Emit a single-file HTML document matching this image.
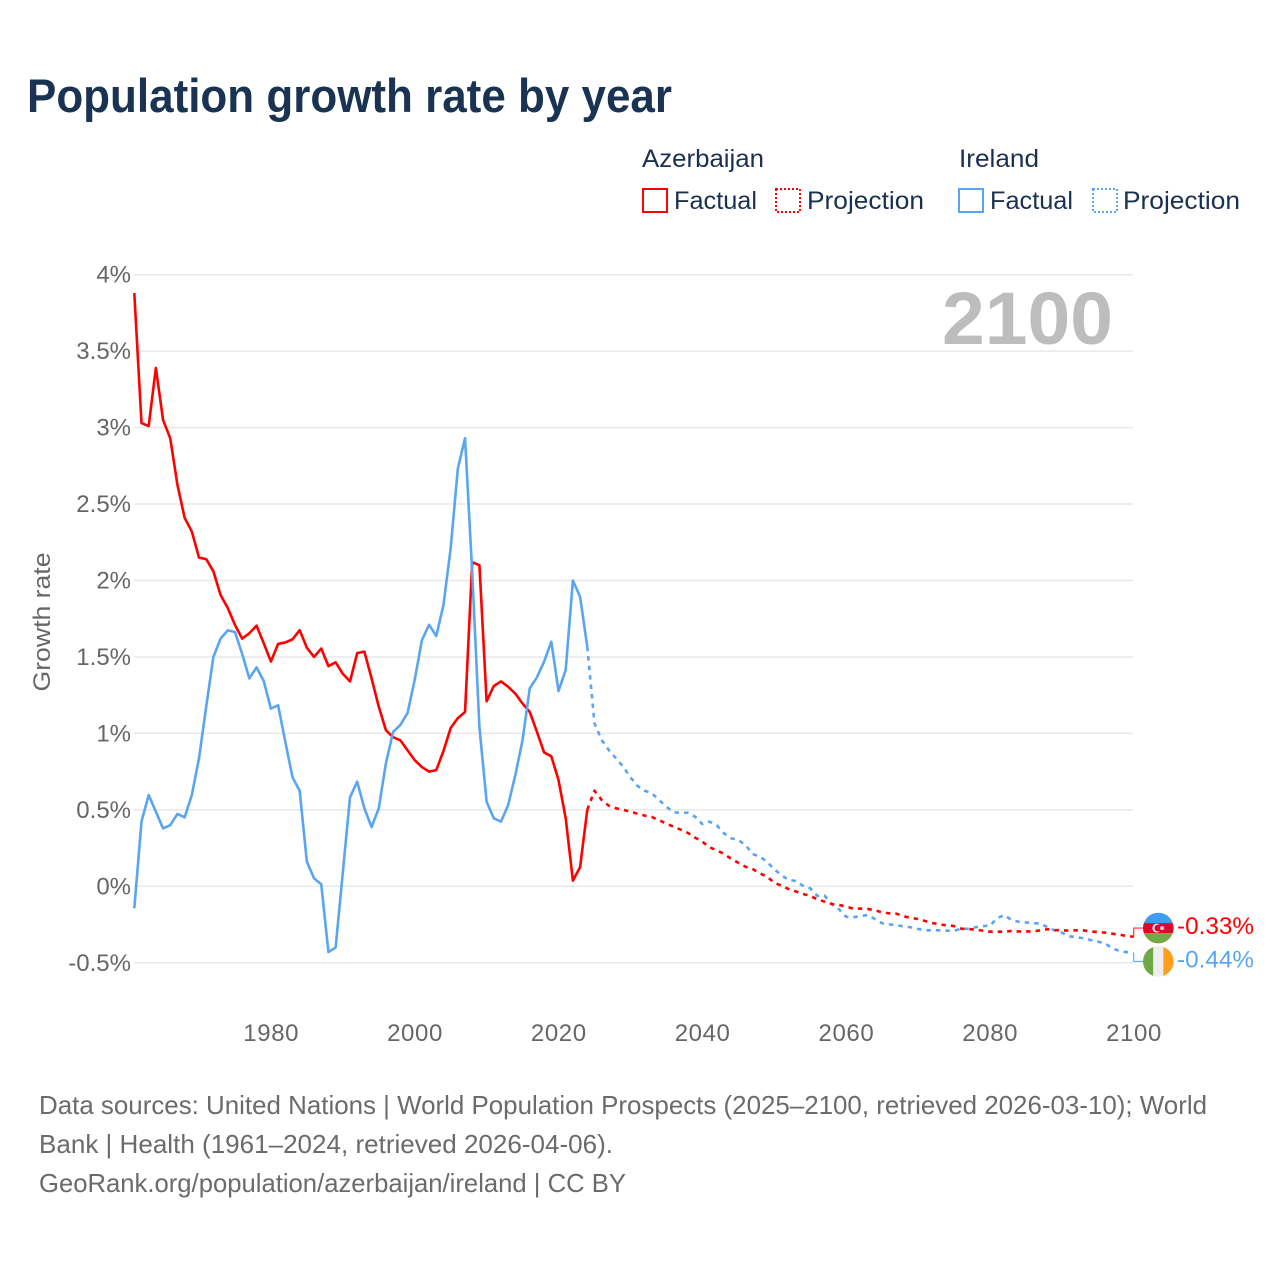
<!DOCTYPE html>
<html lang="en">
<head>
<meta charset="utf-8">
<title>Population growth rate by year</title>
<style>
html,body{margin:0;padding:0;background:#fff;}
svg{display:block;font-family:"Liberation Sans",sans-serif;}
</style>
</head>
<body>
<svg id="chart" xmlns="http://www.w3.org/2000/svg" width="1280" height="1280" viewBox="0 0 1280 1280">
  <defs>
    <clipPath id="flag-clip"><circle cx="0" cy="0" r="15.3"/></clipPath>
  </defs>
  <rect x="0" y="0" width="1280" height="1280" fill="#fff"/>
  <text x="27" y="112" font-size="47" font-weight="700" fill="#1a3353" textLength="645" lengthAdjust="spacingAndGlyphs">Population growth rate by year</text>

  <g font-size="25" fill="#1a3050">
    <text x="642" y="167" textLength="122" lengthAdjust="spacingAndGlyphs">Azerbaijan</text>
    <text x="959" y="167" textLength="80" lengthAdjust="spacingAndGlyphs">Ireland</text>
    <rect x="643" y="189" width="24" height="23" fill="none" stroke="#ff0000" stroke-width="2"/>
    <text x="674" y="209" textLength="83" lengthAdjust="spacingAndGlyphs">Factual</text>
    <rect x="776" y="189" width="24" height="23" fill="none" stroke="#ff0000" stroke-width="2" stroke-dasharray="2 2"/>
    <text x="807" y="209" textLength="117" lengthAdjust="spacingAndGlyphs">Projection</text>
    <rect x="959" y="189" width="24" height="23" fill="none" stroke="#5aa5ef" stroke-width="2"/>
    <text x="990" y="209" textLength="83" lengthAdjust="spacingAndGlyphs">Factual</text>
    <rect x="1093" y="189" width="24" height="23" fill="none" stroke="#5aa5ef" stroke-width="2" stroke-dasharray="2 2"/>
    <text x="1123" y="209" textLength="117" lengthAdjust="spacingAndGlyphs">Projection</text>
  </g>

  <g id="grid"></g>
  <g id="y-ticks" font-size="24" fill="#666" text-anchor="end"></g>
  <g id="x-ticks" font-size="24" fill="#666" text-anchor="middle" letter-spacing="0.6"></g>
  <text transform="translate(50,622) rotate(-90)" font-size="24" fill="#666" text-anchor="middle" textLength="139" lengthAdjust="spacingAndGlyphs">Growth rate</text>
  <text x="1113" y="344" font-size="74" font-weight="700" fill="#bdbdbd" text-anchor="end" textLength="171" lengthAdjust="spacingAndGlyphs">2100</text>
  <g id="series"></g>
  <g id="end-labels"></g>

  <g font-size="26" fill="#6b6b6b">
    <text x="39" y="1114" textLength="1168" lengthAdjust="spacingAndGlyphs">Data sources: United Nations | World Population Prospects (2025–2100, retrieved 2026-03-10); World</text>
    <text x="39" y="1153" textLength="574" lengthAdjust="spacingAndGlyphs">Bank | Health (1961–2024, retrieved 2026-04-06).</text>
    <text x="39" y="1192" textLength="587" lengthAdjust="spacingAndGlyphs">GeoRank.org/population/azerbaijan/ireland | CC BY</text>
  </g>
</svg>
<script>
const firstYear = 1961;
const yTicks = [4, 3.5, 3, 2.5, 2, 1.5, 1, 0.5, 0, -0.5];
const yTickLabels = ["4%", "3.5%", "3%", "2.5%", "2%", "1.5%", "1%", "0.5%", "0%", "-0.5%"];
const xTicks = [1980, 2000, 2020, 2040, 2060, 2080, 2100];

const azFactual = [3.88,3.03,3.01,3.39,3.05,2.93,2.625,2.41,2.32,2.15,2.14,2.06,1.905,1.82,1.71,1.62,1.655,1.705,1.59,1.47,1.585,1.595,1.615,1.675,1.56,1.50,1.555,1.44,1.465,1.39,1.34,1.525,1.535,1.36,1.175,1.02,0.975,0.955,0.89,0.825,0.78,0.75,0.76,0.885,1.035,1.10,1.14,2.12,2.10,1.21,1.31,1.34,1.305,1.26,1.195,1.14,1.01,0.875,0.85,0.695,0.445,0.037,0.125,0.5];
const azProjection = [0.625,0.565,0.527,0.51,0.50,0.488,0.475,0.462,0.453,0.432,0.41,0.39,0.37,0.349,0.318,0.292,0.255,0.235,0.213,0.18,0.154,0.128,0.113,0.085,0.063,0.024,0.004,-0.018,-0.033,-0.05,-0.063,-0.085,-0.10,-0.116,-0.122,-0.133,-0.146,-0.146,-0.148,-0.157,-0.17,-0.177,-0.179,-0.196,-0.207,-0.214,-0.227,-0.24,-0.249,-0.255,-0.26,-0.277,-0.279,-0.284,-0.29,-0.297,-0.297,-0.297,-0.292,-0.295,-0.295,-0.295,-0.288,-0.281,-0.286,-0.288,-0.29,-0.288,-0.288,-0.295,-0.299,-0.303,-0.31,-0.316,-0.325,-0.33];
const ieFactual = [-0.144,0.423,0.597,0.488,0.379,0.40,0.473,0.451,0.597,0.837,1.175,1.50,1.62,1.674,1.663,1.52,1.36,1.432,1.343,1.162,1.184,0.946,0.713,0.625,0.161,0.052,0.013,-0.43,-0.40,0.09,0.582,0.684,0.51,0.388,0.51,0.806,1.01,1.055,1.133,1.35,1.61,1.71,1.637,1.84,2.21,2.733,2.93,2.05,1.04,0.553,0.445,0.423,0.532,0.728,0.957,1.295,1.367,1.47,1.60,1.277,1.415,2.0,1.894,1.567];
const ieProjection = [1.066,0.957,0.891,0.837,0.782,0.713,0.656,0.625,0.608,0.564,0.52,0.484,0.481,0.481,0.455,0.407,0.423,0.40,0.347,0.314,0.303,0.27,0.211,0.194,0.161,0.111,0.074,0.041,0.035,0.004,-0.013,-0.063,-0.061,-0.116,-0.15,-0.199,-0.203,-0.194,-0.188,-0.214,-0.242,-0.249,-0.255,-0.262,-0.268,-0.279,-0.288,-0.288,-0.288,-0.29,-0.29,-0.279,-0.277,-0.268,-0.26,-0.258,-0.209,-0.188,-0.22,-0.232,-0.236,-0.242,-0.242,-0.268,-0.288,-0.303,-0.327,-0.332,-0.34,-0.351,-0.362,-0.373,-0.405,-0.423,-0.43,-0.44];
const azEndLabel = "-0.33%";
const ieEndLabel = "-0.44%";

const NS = "http://www.w3.org/2000/svg";
const RED = "#ff0000";
const BLUE = "#5aa5ef";
const LINE_W = 2.6;
const DASH = "4.5 5";
function xScale(year) { return 134.3 + (year - firstYear) * 7.19; }
function yScale(v) { return 886.3 - v * 152.9; }
function make(tag, attrs, parent) {
  const el = document.createElementNS(NS, tag);
  for (const k in attrs) el.setAttribute(k, attrs[k]);
  parent.appendChild(el);
  return el;
}
function pointsFrom(values, startYear) {
  return values.map(function (v, i) {
    return xScale(startYear + i).toFixed(2) + "," + yScale(v).toFixed(2);
  }).join(" ");
}

const gridG = document.getElementById("grid");
const yTickG = document.getElementById("y-ticks");
yTicks.forEach(function (t, i) {
  const line = make("line", { x1: 134, x2: 1133, y1: yScale(t), y2: yScale(t), stroke: "#e8e8e8", "stroke-width": 1.5 }, gridG);
  
  
  const label = make("text", { x: 131, y: yScale(t) + 8 }, yTickG);
  
  
  label.textContent = yTickLabels[i];
});

const xTickG = document.getElementById("x-ticks");
xTicks.forEach(function (yr) {
  const label = make("text", { x: xScale(yr) + 0.3, y: 1041 }, xTickG);
  
  
  label.textContent = String(yr);
});

const seriesG = document.getElementById("series");
const lastFactualYear = firstYear + azFactual.length - 1;

const ieProjLine = make("polyline", { points: pointsFrom([ieFactual[ieFactual.length - 1]].concat(ieProjection), lastFactualYear), fill: "none", stroke: BLUE, "stroke-width": LINE_W, "stroke-dasharray": DASH, "stroke-linejoin": "round" }, seriesG);


const azProjLine = make("polyline", { points: pointsFrom([azFactual[azFactual.length - 1]].concat(azProjection), lastFactualYear), fill: "none", stroke: RED, "stroke-width": LINE_W, "stroke-dasharray": DASH, "stroke-linejoin": "round" }, seriesG);


const azLine = make("polyline", { points: pointsFrom(azFactual, firstYear), fill: "none", stroke: RED, "stroke-width": LINE_W, "stroke-linejoin": "round" }, seriesG);


const ieLine = make("polyline", { points: pointsFrom(ieFactual, firstYear), fill: "none", stroke: BLUE, "stroke-width": LINE_W, "stroke-linejoin": "round" }, seriesG);



/* End labels: flags keep a minimum separation around the two final values */
const endG = document.getElementById("end-labels");
const endYear = lastFactualYear + azProjection.length;
const endX = xScale(endYear);
const azEndY = yScale(azProjection[azProjection.length - 1]);
const ieEndY = yScale(ieProjection[ieProjection.length - 1]);
const midY = (azEndY + ieEndY) / 2;
const sep = Math.max(33.4, Math.abs(ieEndY - azEndY));
const azFlagY = (azEndY <= ieEndY ? midY - sep / 2 : midY + sep / 2) - 0.4;
const ieFlagY = (azEndY <= ieEndY ? midY + sep / 2 : midY - sep / 2) - 0.4;
const flagX = 1158.3;

const azLeader = make("polyline", { points: endX + "," + azEndY + " " + endX + "," + azFlagY + " " + (flagX - 15) + "," + azFlagY, fill: "none", stroke: RED, "stroke-width": 1.2, opacity: 0.8 }, endG);


const ieLeader = make("polyline", { points: endX + "," + ieEndY + " " + endX + "," + ieFlagY + " " + (flagX - 15) + "," + ieFlagY, fill: "none", stroke: BLUE, "stroke-width": 1.2, opacity: 0.9 }, endG);



const azFlag = make("g", { transform: "translate(" + flagX + "," + azFlagY + ")", "clip-path": "url(#flag-clip)" }, endG);


make("rect", { x: -16, y: -16, width: 32, height: 11, fill: "#3f9cf0" }, azFlag);
make("rect", { x: -16, y: -5, width: 32, height: 10, fill: "#e0052d" }, azFlag);
make("rect", { x: -16, y: 5, width: 32, height: 11, fill: "#6fa844" }, azFlag);
make("circle", { cx: -1.5, cy: 0, r: 4.4, fill: "#fff" }, azFlag);
make("circle", { cx: -0.3, cy: 0, r: 3.6, fill: "#e0052d" }, azFlag);
make("circle", { cx: 3.8, cy: 0, r: 2, fill: "#f6c6cf" }, azFlag);

const ieFlag = make("g", { transform: "translate(" + flagX + "," + ieFlagY + ")", "clip-path": "url(#flag-clip)" }, endG);


make("rect", { x: -16, y: -16, width: 11, height: 32, fill: "#6fa844" }, ieFlag);
make("rect", { x: -5, y: -16, width: 10, height: 32, fill: "#eeeeee" }, ieFlag);
make("rect", { x: 5, y: -16, width: 11, height: 32, fill: "#ff9d1e" }, ieFlag);

const azValue = make("text", { x: 1177, y: azFlagY + 6, "font-size": 24, fill: RED, textLength: 77, lengthAdjust: "spacingAndGlyphs" }, endG);


azValue.textContent = azEndLabel;
const ieValue = make("text", { x: 1177, y: ieFlagY + 6, "font-size": 24, fill: BLUE, textLength: 77, lengthAdjust: "spacingAndGlyphs" }, endG);


ieValue.textContent = ieEndLabel;
</script>
</body>
</html>
